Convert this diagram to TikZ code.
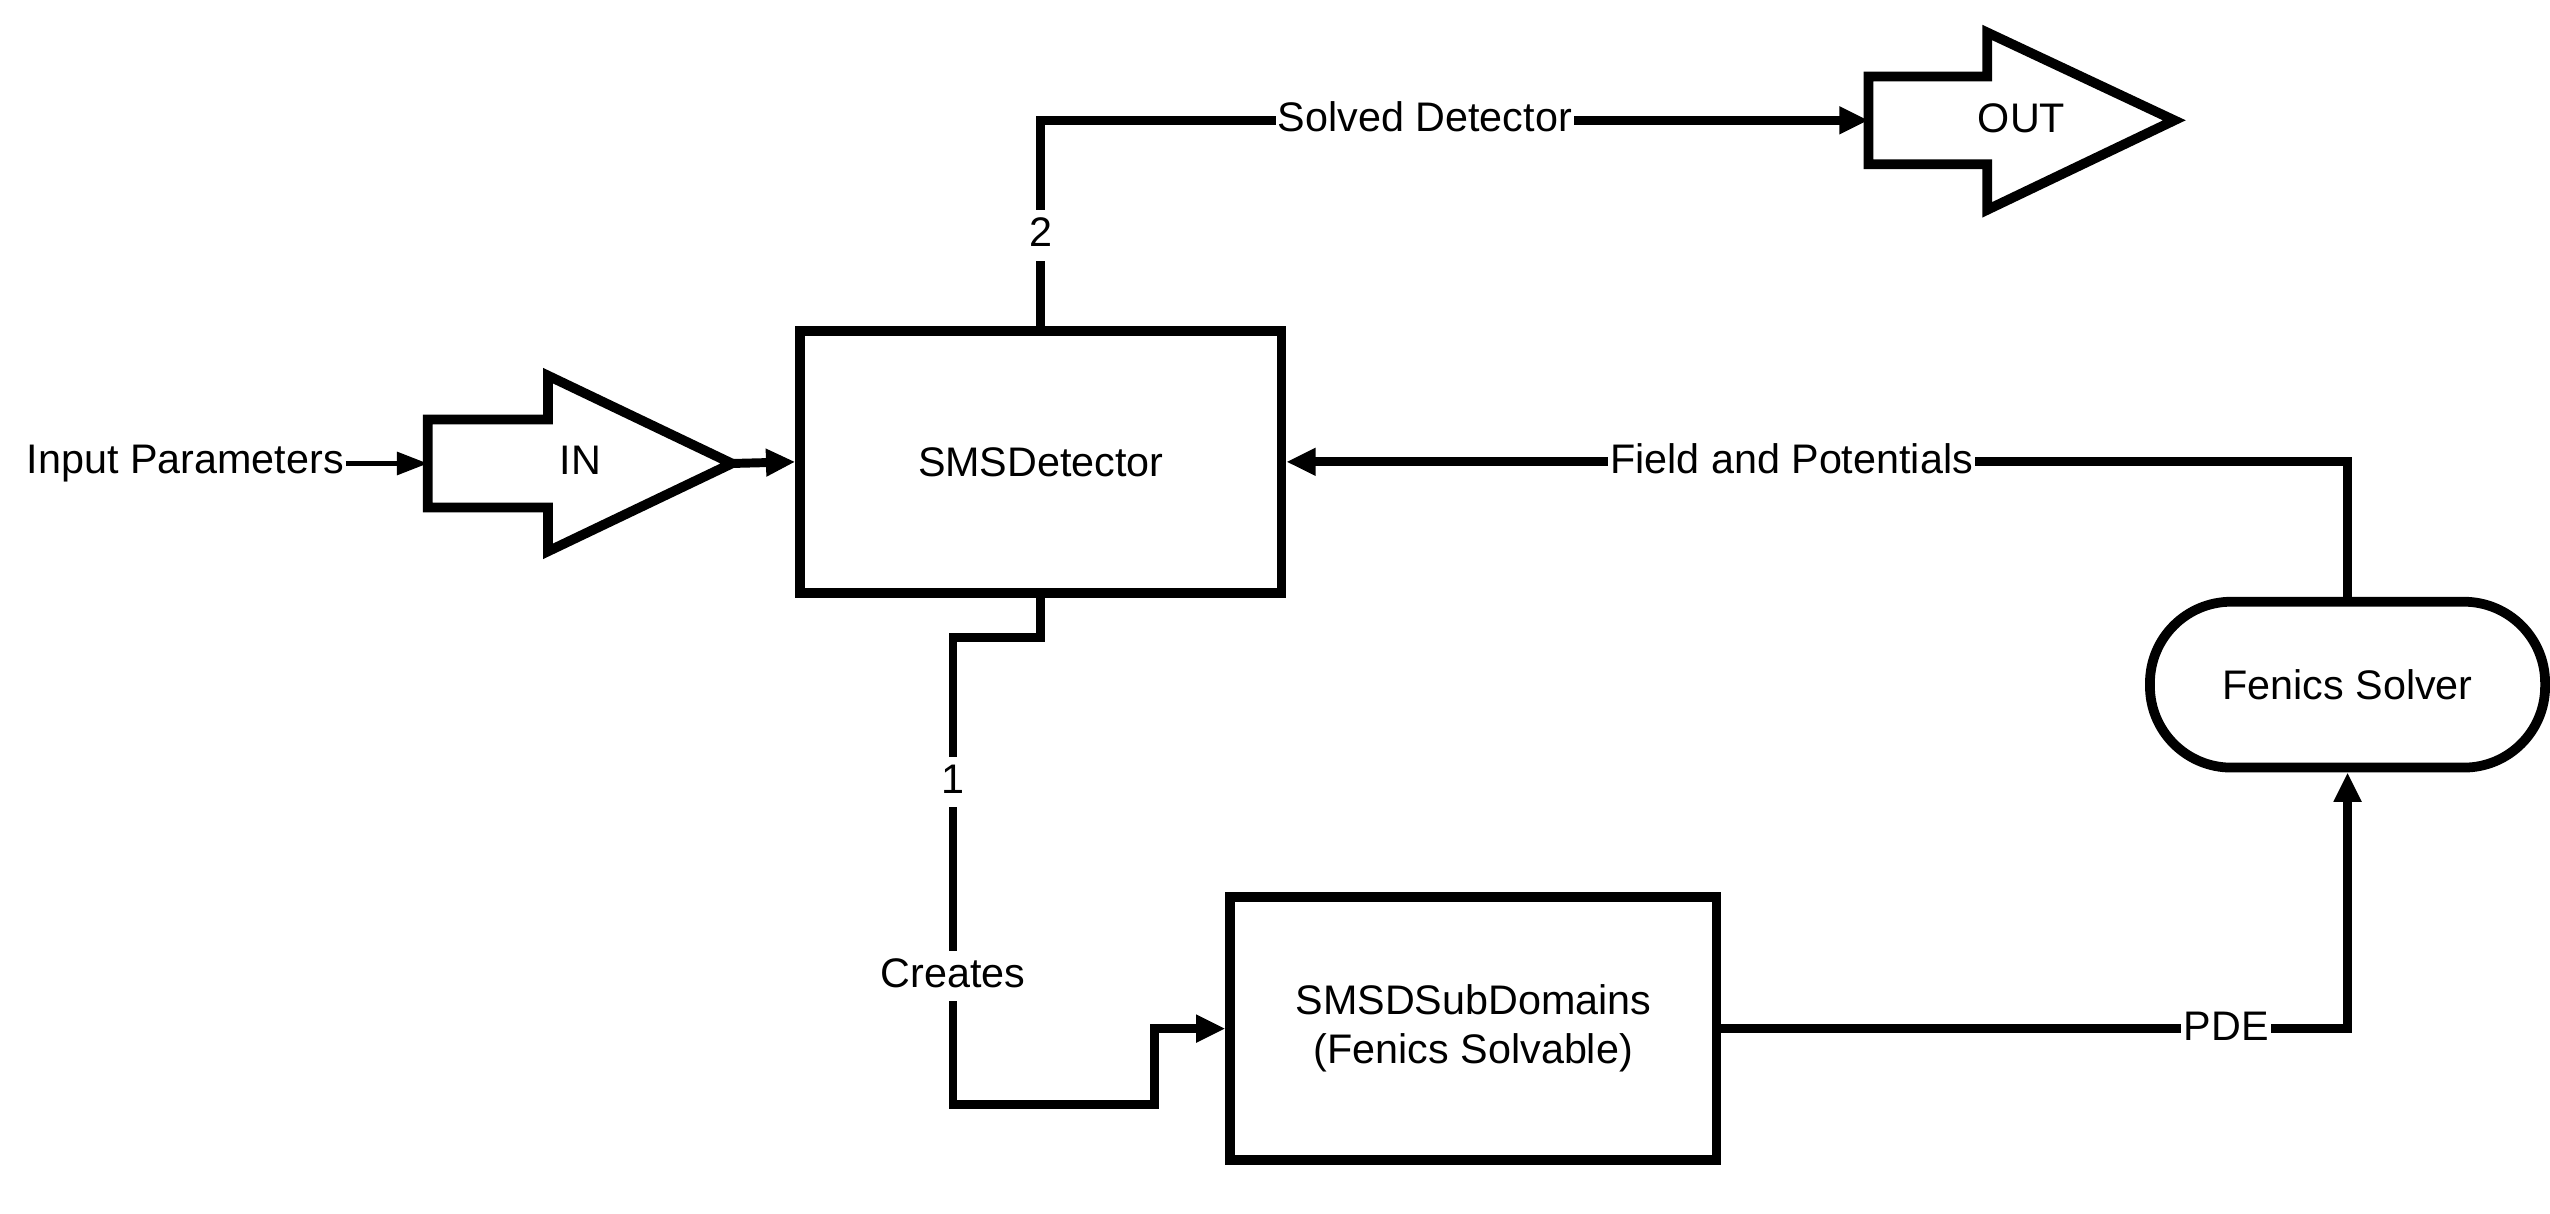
\documentclass[tikz,border=0pt]{standalone}
\usepackage{fontspec}
\setmainfont{Liberation Sans}
\usetikzlibrary{arrows.meta}
\begin{document}
\begin{tikzpicture}[x=1pt,y=1pt,
  every node/.style={font=\fontsize{25.4}{30}\selectfont},
  shp/.style={line width=6pt},
  ln/.style={line width=5.5pt},
  arr/.style={ln,-{Triangle[length=18pt,width=16pt]}},
  thinarr/.style={line width=2.5pt,-{Triangle[length=19pt,width=14pt]}},
  box/.style={draw,shp,minimum width=296pt,minimum height=161pt,align=center},
  lbl/.style={fill=white,inner xsep=1.5pt,inner ysep=1.5pt,text height=21pt,text depth=7pt},
  plain/.style={inner sep=1pt}
]
\useasboundingbox (0,-746) rectangle (1568,0);
% IN block
\draw[shp,line join=miter] (263,-258) -- (337,-258) -- (337,-231) -- (450,-285) -- (337,-339) -- (337,-312) -- (263,-312) -- cycle;
\coordinate (inL) at (263,-285);
\coordinate (inR) at (450,-285);
\node[plain] (inT) at (357,-283) {IN};
% OUT block
\draw[shp,line join=miter] (1149,-47) -- (1222,-47) -- (1222,-20) -- (1337,-74) -- (1222,-129) -- (1222,-101) -- (1149,-101) -- cycle;
\coordinate (outL) at (1149,-74);
\node[plain] (outT) at (1243,-73) {OUT};
% nodes
\node[plain] (ip) at (114,-285) {Input Parameters};
\node[box] (det) at (640,-284) {SMSDetector};
\node[box,minimum width=299pt,minimum height=162pt] (sub) at (906,-632.5) {SMSDSubDomains\\(Fenics Solvable)};
\node[draw,shp,rounded corners=50pt,minimum width=243pt,minimum height=102pt] (fen) at (1443.5,-421) {Fenics Solver};
% connectors
\draw[thinarr] (ip.east) -- (inL);
\draw[arr] (inR) -- (det.west);
\draw[arr] (det.north) |- node[lbl,pos=0.22] {2} node[lbl,pos=0.732] {Solved Detector} (outL);
\draw[arr] (fen.north) |- node[lbl,pos=0.762] {Field and Potentials} (det.east);
\draw[arr] (sub.east) -| node[lbl,pos=0.403] {PDE} (fen.south);
\draw[arr] (det.south) -- (640,-392) -- (586,-392)
  -- node[lbl,pos=0.31] {1} node[lbl,pos=0.725] {Creates} (586,-679)
  -- (710,-679) -- (710,-632.5) -- (sub.west);
\end{tikzpicture}
\end{document}
